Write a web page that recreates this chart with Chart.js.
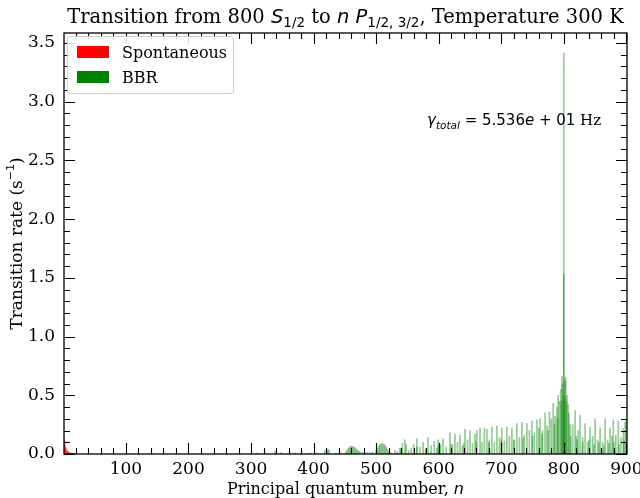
<!DOCTYPE html>
<html>
<head>
<meta charset="utf-8">
<script src="https://cdn.jsdelivr.net/npm/chart.js@4.4.0/dist/chart.umd.min.js"></script>
<style>
  html, body { margin: 0; padding: 0; background: #fff; }
  #wrap { width: 640px; height: 498px; }
</style>
</head>
<body>
<div id="wrap"><canvas id="rates"></canvas></div>
<script>
// Spontaneous decay rates (only low n visible)
const spontN = [1, 2, 3, 4, 5, 6, 7, 8, 9, 10, 11, 12, 13, 14, 15, 16, 18, 20];
const spontRate = [0.13, 0.11, 0.07, 0.05, 0.035, 0.026, 0.02, 0.016, 0.013, 0.01, 0.008, 0.007, 0.006, 0.005, 0.004, 0.003, 0.002, 0.002];

// BBR rates to n P1/2
const bbrN1 = [300, 310, 322, 338, 348, 362, 370, 381, 395, 405, 418, 421, 423, 425, 436, 442,
  452, 454, 456, 458, 460, 462, 464, 466, 468, 470, 472, 474, 478, 482, 486, 490, 494,
  500, 502, 504, 506, 508, 510, 512, 514, 516, 518, 520,
  524, 530, 534, 538, 542, 546, 548, 552, 556, 560, 565, 570, 575, 579, 583, 588, 593, 597, 599,
  603, 607, 612, 618, 622, 626, 630, 634, 638, 642, 646, 650, 654, 658, 661, 666, 669, 673, 677,
  681, 685, 689, 693, 697, 701, 705, 709, 713, 717, 721, 725, 729, 733, 737, 741, 745, 749, 753,
  757, 760, 762, 766, 770, 773, 777, 780, 783, 786, 789, 791, 793, 795, 797, 798, 800, 802, 803,
  805, 807, 808, 811, 814, 818, 821, 823, 826, 830, 834, 838, 842, 846, 850, 854, 858, 862, 866,
  870, 874, 877, 879, 883, 887, 891, 895, 898, 900];
const bbrRate1 = [0.005, 0.01, 0.008, 0.025, 0.015, 0.02, 0.01, 0.02, 0.01, 0.012, 0.03, 0.04, 0.04, 0.03, 0.01, 0.015,
  0.02, 0.04, 0.05, 0.06, 0.065, 0.065, 0.06, 0.055, 0.045, 0.035, 0.025, 0.02, 0.015, 0.012, 0.015, 0.012, 0.015,
  0.03, 0.05, 0.065, 0.08, 0.085, 0.09, 0.085, 0.075, 0.06, 0.04, 0.02,
  0.01, 0.03, 0.02, 0.05, 0.09, 0.12, 0.08, 0.03, 0.05, 0.08, 0.13, 0.06, 0.1, 0.04, 0.14, 0.07, 0.11, 0.05, 0.12,
  0.08, 0.13, 0.06, 0.18, 0.08, 0.17, 0.1, 0.16, 0.07, 0.21, 0.12, 0.2, 0.09, 0.17, 0.2, 0.22, 0.1, 0.22, 0.21,
  0.12, 0.23, 0.1, 0.24, 0.14, 0.22, 0.11, 0.23, 0.15, 0.22, 0.12, 0.26, 0.14, 0.27, 0.16, 0.26, 0.2, 0.28, 0.18,
  0.29, 0.22, 0.3, 0.2, 0.35, 0.24, 0.36, 0.3, 0.43, 0.32, 0.4, 0.5, 0.45, 0.55, 0.66, 0.6, 3.414, 0.62, 0.65,
  0.5, 0.42, 0.35, 0.15, 0.25, 0.37, 0.12, 0.2, 0.33, 0.14, 0.26, 0.1, 0.23, 0.15, 0.3, 0.12, 0.22, 0.1, 0.3,
  0.12, 0.22, 0.15, 0.29, 0.16, 0.28, 0.14, 0.22, 0.27, 0.3];

// BBR rates to n P3/2
const bbrN2 = [540, 565, 580, 600, 620, 640, 660, 680, 700, 720, 735, 750, 765, 775, 785, 790, 796, 799, 800, 801, 804, 810, 820, 830, 840, 848, 856, 864, 872, 880, 888, 896];
const bbrRate2 = [0.04, 0.06, 0.05, 0.07, 0.08, 0.09, 0.1, 0.1, 0.12, 0.12, 0.14, 0.15, 0.17, 0.2, 0.25, 0.3, 0.45, 0.5, 1.53, 0.48, 0.45, 0.25, 0.15, 0.1, 0.12, 0.08, 0.1, 0.07, 0.09, 0.1, 0.08, 0.12];

const xTicks = [100, 200, 300, 400, 500, 600, 700, 800, 900];
const yTicks = [0, 0.5, 1.0, 1.5, 2.0, 2.5, 3.0, 3.5];

const SERIF = "'DejaVu Serif', serif";
const SANS = "'DejaVu Sans', sans-serif";

function pts(xs, ys) {
  return xs.map((x, i) => ({ x: x, y: ys[i] }));
}

// draw a run of text pieces, each with its own font and vertical shift
function drawRuns(ctx, runs, x, y, align) {
  let total = 0;
  runs.forEach(r => { ctx.font = r.f; total += ctx.measureText(r.t).width; });
  let cx = align === 'center' ? x - total / 2 : x;
  ctx.textAlign = 'left';
  ctx.textBaseline = 'alphabetic';
  runs.forEach(r => {
    ctx.font = r.f;
    ctx.fillText(r.t, cx, y + (r.dy || 0));
    cx += ctx.measureText(r.t).width;
  });
}

const decorations = {
  id: 'decorations',
  beforeDraw(chart) {
    const ctx = chart.ctx;
    ctx.save();
    ctx.fillStyle = '#fff';
    ctx.fillRect(0, 0, chart.width, chart.height);
    ctx.restore();
  },
  afterDraw(chart) {
    const ctx = chart.ctx;
    const a = chart.chartArea;
    const xs = chart.scales.x, ys = chart.scales.y;
    ctx.save();
    ctx.fillStyle = '#000';
    ctx.strokeStyle = '#000';

    // inward ticks on all sides
    ctx.lineWidth = 1.1;
    ctx.beginPath();
    for (let v = 20; v <= 900; v += 20) {
      const px = Math.round(xs.getPixelForValue(v)) + 0.5;
      const len = v % 100 === 0 ? 11 : 6;
      ctx.moveTo(px, a.bottom); ctx.lineTo(px, a.bottom - len);
      ctx.moveTo(px, a.top); ctx.lineTo(px, a.top + len);
    }
    for (let i = 0; i <= 35; i++) {
      const v = i / 10;
      const py = Math.round(ys.getPixelForValue(v)) + 0.5;
      const len = i % 5 === 0 ? 11 : 6;
      ctx.moveTo(a.left, py); ctx.lineTo(a.left + len, py);
      ctx.moveTo(a.right, py); ctx.lineTo(a.right - len, py);
    }
    ctx.stroke();

    // frame
    ctx.lineWidth = 1.3;
    ctx.strokeRect(a.left, a.top, a.right - a.left, a.bottom - a.top);

    // title
    drawRuns(ctx, [
      { t: 'Transition from 800 ', f: '19.5px ' + SERIF },
      { t: 'S', f: 'italic 19.5px ' + SANS },
      { t: '1/2', f: '13.5px ' + SANS, dy: 4 },
      { t: ' to ', f: '19.5px ' + SERIF },
      { t: 'n P', f: 'italic 19.5px ' + SANS },
      { t: '1/2, 3/2', f: '13.5px ' + SANS, dy: 4 },
      { t: ', Temperature 300 K', f: '19.5px ' + SERIF }
    ], (a.left + a.right) / 2, 23, 'center');

    // x axis title
    drawRuns(ctx, [
      { t: 'Principal quantum number, ', f: '16px ' + SERIF },
      { t: 'n', f: 'italic 16px ' + SANS }
    ], (a.left + a.right) / 2, 494, 'center');

    // y axis title
    ctx.save();
    ctx.translate(22, (a.top + a.bottom) / 2);
    ctx.rotate(-Math.PI / 2);
    drawRuns(ctx, [
      { t: 'Transition rate (s', f: '17px ' + SERIF },
      { t: '\u22121', f: '11px ' + SANS, dy: -8 },
      { t: ')', f: '17px ' + SERIF }
    ], 0, 0, 'center');
    ctx.restore();

    // total rate annotation
    drawRuns(ctx, [
      { t: '\u03b3', f: 'italic 15px ' + SANS },
      { t: 'total', f: 'italic 10.5px ' + SANS, dy: 4 },
      { t: ' = 5.536', f: '15px ' + SANS },
      { t: 'e', f: 'italic 15px ' + SANS },
      { t: ' + 01', f: '15px ' + SANS },
      { t: ' Hz', f: '15px ' + SERIF }
    ], 427, 125, 'left');

    // legend box
    const lx = a.left + 3, ly = a.top + 3, lw = 166, lh = 57;
    ctx.fillStyle = 'rgba(255,255,255,0.85)';
    ctx.strokeStyle = '#cccccc';
    ctx.lineWidth = 1;
    ctx.beginPath();
    ctx.roundRect(lx + 0.5, ly + 0.5, lw, lh, 3);
    ctx.fill();
    ctx.stroke();
    ctx.fillStyle = '#ff0000';
    ctx.fillRect(lx + 10, ly + 10, 32, 12);
    ctx.fillStyle = '#008000';
    ctx.fillRect(lx + 10, ly + 35, 32, 12);
    ctx.fillStyle = '#000';
    ctx.font = '16px ' + SERIF;
    ctx.textBaseline = 'alphabetic';
    ctx.fillText('Spontaneous', lx + 55, ly + 22);
    ctx.fillText('BBR', lx + 55, ly + 47);

    ctx.restore();
  }
};

const barBase = { barThickness: 1, grouped: false, borderWidth: 0 };

new Chart(document.getElementById('rates'), {
  type: 'bar',
  data: {
    datasets: [
      Object.assign({ label: 'Spontaneous', data: pts(spontN, spontRate), backgroundColor: 'rgba(255,0,0,0.5)' }, barBase),
      Object.assign({ label: 'BBR', data: pts(bbrN1, bbrRate1), backgroundColor: 'rgba(0,128,0,0.42)' }, barBase),
      Object.assign({ label: 'BBR P3/2', data: pts(bbrN2, bbrRate2), backgroundColor: 'rgba(0,128,0,0.42)' }, barBase)
    ]
  },
  options: {
    responsive: true,
    maintainAspectRatio: false,
    animation: false,
    layout: { padding: { top: 33, right: 13, left: 0, bottom: 0 } },
    plugins: {
      legend: { display: false },
      title: { display: false },
      tooltip: { enabled: false }
    },
    scales: {
      x: {
        type: 'linear',
        min: 1,
        max: 901,
        offset: false,
        grid: { display: false, drawTicks: false },
        border: { display: false },
        afterBuildTicks: function (scale) {
          scale.ticks = xTicks.map(v => ({ value: v }));
        },
        afterFit: function (scale) {
          scale.height = 44;
          scale.paddingLeft = 0;
          scale.paddingRight = 0;
        },
        ticks: {
          autoSkip: false,
          maxRotation: 0,
          padding: 5,
          color: '#000',
          font: { family: SERIF, size: 17 },
          callback: function (value) { return String(value); }
        }
      },
      y: {
        type: 'linear',
        min: 0,
        max: 3.585,
        grid: { display: false, drawTicks: false },
        border: { display: false },
        afterBuildTicks: function (scale) {
          scale.ticks = yTicks.map(v => ({ value: v }));
        },
        afterFit: function (scale) {
          scale.width = 64;
          scale.paddingTop = 0;
          scale.paddingBottom = 0;
        },
        ticks: {
          autoSkip: false,
          padding: 9,
          color: '#000',
          font: { family: SERIF, size: 17 },
          callback: function (value) { return value.toFixed(1); }
        }
      }
    }
  },
  plugins: [decorations]
});
</script>
</body>
</html>
